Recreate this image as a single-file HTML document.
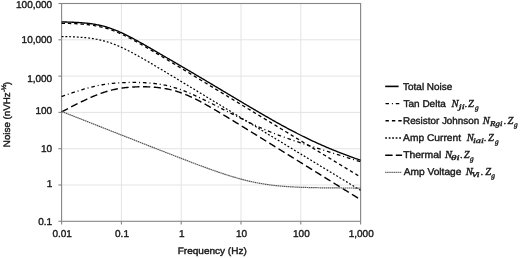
<!DOCTYPE html>
<html><head><meta charset="utf-8"><style>
html,body{margin:0;padding:0;background:#fff;}
svg{display:block;text-rendering:geometricPrecision;filter:grayscale(1) blur(0.4px);}
text{font-family:"Liberation Sans", sans-serif;fill:#1a1a1a;stroke:#1a1a1a;stroke-width:0.4px;}
.m text{font-family:"Liberation Serif", serif;font-style:italic;}
</style></head><body>
<svg width="520" height="258" viewBox="0 0 520 258">
<rect width="520" height="258" fill="#fff"/>
<g stroke="#e4e4e4" stroke-width="1"><line x1="121.40" y1="3.5" x2="121.40" y2="221.29999999999998" /><line x1="181.20" y1="3.5" x2="181.20" y2="221.29999999999998" /><line x1="241.00" y1="3.5" x2="241.00" y2="221.29999999999998" /><line x1="300.80" y1="3.5" x2="300.80" y2="221.29999999999998" /><line x1="360.60" y1="3.5" x2="360.60" y2="221.29999999999998" /><line x1="61.6" y1="39.80" x2="360.6" y2="39.80" /><line x1="61.6" y1="76.10" x2="360.6" y2="76.10" /><line x1="61.6" y1="112.40" x2="360.6" y2="112.40" /><line x1="61.6" y1="148.70" x2="360.6" y2="148.70" /><line x1="61.6" y1="185.00" x2="360.6" y2="185.00" /></g>
<rect x="61.6" y="3.5" width="299.00" height="217.80" fill="none" stroke="#868686" stroke-width="1.1"/>
<g stroke="#868686" stroke-width="1.1"><line x1="58.4" y1="3.50" x2="61.6" y2="3.50" /><line x1="58.4" y1="39.80" x2="61.6" y2="39.80" /><line x1="58.4" y1="76.10" x2="61.6" y2="76.10" /><line x1="58.4" y1="112.40" x2="61.6" y2="112.40" /><line x1="58.4" y1="148.70" x2="61.6" y2="148.70" /><line x1="58.4" y1="185.00" x2="61.6" y2="185.00" /><line x1="58.4" y1="221.30" x2="61.6" y2="221.30" /><line x1="61.60" y1="221.29999999999998" x2="61.60" y2="224.49999999999997" /><line x1="121.40" y1="221.29999999999998" x2="121.40" y2="224.49999999999997" /><line x1="181.20" y1="221.29999999999998" x2="181.20" y2="224.49999999999997" /><line x1="241.00" y1="221.29999999999998" x2="241.00" y2="224.49999999999997" /><line x1="300.80" y1="221.29999999999998" x2="300.80" y2="224.49999999999997" /><line x1="360.60" y1="221.29999999999998" x2="360.60" y2="224.49999999999997" /></g>
<g font-size="10"><text x="52.2" y="8.00" text-anchor="end">100,000</text><text x="52.2" y="43.00" text-anchor="end">10,000</text><text x="52.2" y="82.00" text-anchor="end">1,000</text><text x="52.2" y="114.00" text-anchor="end">100</text><text x="52.2" y="152.00" text-anchor="end">10</text><text x="52.2" y="187.00" text-anchor="end">1</text><text x="52.2" y="225.00" text-anchor="end">0.1</text><text x="62.20" y="237" text-anchor="middle">0.01</text><text x="122.00" y="237" text-anchor="middle">0.1</text><text x="181.80" y="237" text-anchor="middle">1</text><text x="241.60" y="237" text-anchor="middle">10</text><text x="301.40" y="237" text-anchor="middle">100</text><text x="361.20" y="237" text-anchor="middle">1,000</text></g>
<text x="177.70" y="254" font-size="9.4" textLength="69.11" lengthAdjust="spacingAndGlyphs">Frequency (Hz)</text>
<g transform="translate(9.9,146.4) rotate(-90)"><text x="-0.78" y="0" font-size="9.4" textLength="54.85" lengthAdjust="spacingAndGlyphs">Noise (nVHz</text><text x="54.3" y="-4.2" font-size="6.6">-½</text><text x="61.4" y="0" font-size="9.4">)</text></g>
<g><path d="M61.60,21.91 L62.60,21.93 L63.59,21.95 L64.59,21.97 L65.59,21.99 L66.58,22.02 L67.58,22.05 L68.58,22.08 L69.57,22.11 L70.57,22.14 L71.57,22.18 L72.56,22.22 L73.56,22.26 L74.56,22.30 L75.55,22.35 L76.55,22.40 L77.55,22.46 L78.54,22.52 L79.54,22.58 L80.54,22.65 L81.53,22.72 L82.53,22.80 L83.53,22.88 L84.52,22.97 L85.52,23.07 L86.52,23.17 L87.51,23.28 L88.51,23.39 L89.51,23.52 L90.50,23.65 L91.50,23.78 L92.50,23.93 L93.49,24.09 L94.49,24.25 L95.49,24.42 L96.48,24.61 L97.48,24.80 L98.48,25.00 L99.47,25.22 L100.47,25.44 L101.47,25.68 L102.46,25.92 L103.46,26.18 L104.46,26.45 L105.45,26.73 L106.45,27.02 L107.45,27.33 L108.44,27.64 L109.44,27.97 L110.44,28.31 L111.43,28.66 L112.43,29.02 L113.43,29.39 L114.42,29.77 L115.42,30.16 L116.42,30.57 L117.41,30.98 L118.41,31.40 L119.41,31.84 L120.40,32.28 L121.40,32.73 L122.40,33.19 L123.39,33.66 L124.39,34.13 L125.39,34.62 L126.38,35.11 L127.38,35.60 L128.38,36.10 L129.37,36.61 L130.37,37.13 L131.37,37.65 L132.36,38.17 L133.36,38.70 L134.36,39.24 L135.35,39.78 L136.35,40.32 L137.35,40.87 L138.34,41.42 L139.34,41.97 L140.34,42.52 L141.33,43.08 L142.33,43.64 L143.33,44.21 L144.32,44.77 L145.32,45.34 L146.32,45.91 L147.31,46.48 L148.31,47.05 L149.31,47.62 L150.30,48.20 L151.30,48.77 L152.30,49.35 L153.29,49.92 L154.29,50.50 L155.29,51.08 L156.28,51.66 L157.28,52.24 L158.28,52.82 L159.27,53.40 L160.27,53.98 L161.27,54.56 L162.26,55.14 L163.26,55.72 L164.26,56.30 L165.25,56.88 L166.25,57.46 L167.25,58.04 L168.24,58.62 L169.24,59.20 L170.24,59.78 L171.23,60.36 L172.23,60.94 L173.23,61.52 L174.22,62.10 L175.22,62.68 L176.22,63.26 L177.21,63.84 L178.21,64.42 L179.21,65.01 L180.20,65.59 L181.20,66.17 L182.20,66.75 L183.19,67.34 L184.19,67.92 L185.19,68.51 L186.18,69.09 L187.18,69.68 L188.18,70.26 L189.17,70.85 L190.17,71.43 L191.17,72.02 L192.16,72.61 L193.16,73.20 L194.16,73.79 L195.15,74.38 L196.15,74.96 L197.15,75.55 L198.14,76.15 L199.14,76.74 L200.14,77.33 L201.13,77.92 L202.13,78.51 L203.13,79.10 L204.12,79.70 L205.12,80.29 L206.12,80.88 L207.11,81.47 L208.11,82.07 L209.11,82.66 L210.10,83.26 L211.10,83.85 L212.10,84.44 L213.09,85.04 L214.09,85.63 L215.09,86.23 L216.08,86.82 L217.08,87.42 L218.08,88.01 L219.07,88.61 L220.07,89.20 L221.07,89.80 L222.06,90.39 L223.06,90.99 L224.06,91.58 L225.05,92.18 L226.05,92.77 L227.05,93.37 L228.04,93.96 L229.04,94.56 L230.04,95.15 L231.03,95.75 L232.03,96.34 L233.03,96.94 L234.02,97.53 L235.02,98.13 L236.02,98.72 L237.01,99.31 L238.01,99.91 L239.01,100.50 L240.00,101.09 L241.00,101.69 L242.00,102.28 L242.99,102.87 L243.99,103.46 L244.99,104.05 L245.98,104.65 L246.98,105.24 L247.98,105.83 L248.97,106.41 L249.97,107.00 L250.97,107.59 L251.96,108.18 L252.96,108.77 L253.96,109.35 L254.95,109.94 L255.95,110.52 L256.95,111.11 L257.94,111.69 L258.94,112.27 L259.94,112.85 L260.93,113.43 L261.93,114.01 L262.93,114.59 L263.92,115.17 L264.92,115.74 L265.92,116.32 L266.91,116.89 L267.91,117.46 L268.91,118.03 L269.90,118.60 L270.90,119.17 L271.90,119.74 L272.89,120.30 L273.89,120.86 L274.89,121.42 L275.88,121.98 L276.88,122.54 L277.88,123.10 L278.87,123.65 L279.87,124.20 L280.87,124.75 L281.86,125.30 L282.86,125.84 L283.86,126.38 L284.85,126.93 L285.85,127.46 L286.85,128.00 L287.84,128.53 L288.84,129.07 L289.84,129.59 L290.83,130.12 L291.83,130.65 L292.83,131.17 L293.82,131.69 L294.82,132.20 L295.82,132.72 L296.81,133.23 L297.81,133.74 L298.81,134.24 L299.80,134.75 L300.80,135.25 L301.80,135.74 L302.79,136.24 L303.79,136.73 L304.79,137.22 L305.78,137.71 L306.78,138.19 L307.78,138.67 L308.77,139.15 L309.77,139.62 L310.77,140.10 L311.76,140.57 L312.76,141.03 L313.76,141.50 L314.75,141.96 L315.75,142.41 L316.75,142.87 L317.74,143.32 L318.74,143.77 L319.74,144.22 L320.73,144.66 L321.73,145.10 L322.73,145.54 L323.72,145.97 L324.72,146.40 L325.72,146.83 L326.71,147.26 L327.71,147.68 L328.71,148.10 L329.70,148.52 L330.70,148.94 L331.70,149.35 L332.69,149.76 L333.69,150.17 L334.69,150.57 L335.68,150.97 L336.68,151.37 L337.68,151.77 L338.67,152.17 L339.67,152.56 L340.67,152.95 L341.66,153.34 L342.66,153.72 L343.66,154.10 L344.65,154.48 L345.65,154.86 L346.65,155.24 L347.64,155.61 L348.64,155.98 L349.64,156.35 L350.63,156.72 L351.63,157.08 L352.63,157.45 L353.62,157.81 L354.62,158.17 L355.62,158.52 L356.61,158.88 L357.61,159.23 L358.61,159.58 L359.60,159.93 L360.60,160.28" fill="none" stroke="#000" stroke-width="1.35" /><path d="M61.60,23.25 L62.60,23.27 L63.59,23.29 L64.59,23.31 L65.59,23.34 L66.58,23.36 L67.58,23.39 L68.58,23.42 L69.57,23.45 L70.57,23.48 L71.57,23.52 L72.56,23.56 L73.56,23.60 L74.56,23.65 L75.55,23.70 L76.55,23.75 L77.55,23.80 L78.54,23.86 L79.54,23.93 L80.54,23.99 L81.53,24.07 L82.53,24.15 L83.53,24.23 L84.52,24.32 L85.52,24.41 L86.52,24.52 L87.51,24.62 L88.51,24.74 L89.51,24.86 L90.50,24.99 L91.50,25.13 L92.50,25.28 L93.49,25.43 L94.49,25.60 L95.49,25.77 L96.48,25.95 L97.48,26.15 L98.48,26.35 L99.47,26.56 L100.47,26.79 L101.47,27.02 L102.46,27.27 L103.46,27.53 L104.46,27.80 L105.45,28.08 L106.45,28.37 L107.45,28.68 L108.44,28.99 L109.44,29.32 L110.44,29.66 L111.43,30.01 L112.43,30.37 L113.43,30.74 L114.42,31.13 L115.42,31.52 L116.42,31.93 L117.41,32.34 L118.41,32.76 L119.41,33.20 L120.40,33.64 L121.40,34.09 L122.40,34.56 L123.39,35.02 L124.39,35.50 L125.39,35.99 L126.38,36.48 L127.38,36.98 L128.38,37.48 L129.37,37.99 L130.37,38.51 L131.37,39.03 L132.36,39.56 L133.36,40.10 L134.36,40.63 L135.35,41.18 L136.35,41.72 L137.35,42.27 L138.34,42.83 L139.34,43.39 L140.34,43.95 L141.33,44.51 L142.33,45.08 L143.33,45.65 L144.32,46.22 L145.32,46.79 L146.32,47.37 L147.31,47.95 L148.31,48.53 L149.31,49.11 L150.30,49.69 L151.30,50.28 L152.30,50.87 L153.29,51.45 L154.29,52.04 L155.29,52.63 L156.28,53.22 L157.28,53.82 L158.28,54.41 L159.27,55.00 L160.27,55.60 L161.27,56.19 L162.26,56.79 L163.26,57.39 L164.26,57.99 L165.25,58.58 L166.25,59.18 L167.25,59.78 L168.24,60.38 L169.24,60.98 L170.24,61.58 L171.23,62.18 L172.23,62.78 L173.23,63.38 L174.22,63.99 L175.22,64.59 L176.22,65.19 L177.21,65.79 L178.21,66.39 L179.21,67.00 L180.20,67.60 L181.20,68.20 L182.20,68.81 L183.19,69.41 L184.19,70.01 L185.19,70.62 L186.18,71.22 L187.18,71.82 L188.18,72.43 L189.17,73.03 L190.17,73.63 L191.17,74.24 L192.16,74.84 L193.16,75.45 L194.16,76.05 L195.15,76.66 L196.15,77.26 L197.15,77.86 L198.14,78.47 L199.14,79.07 L200.14,79.68 L201.13,80.28 L202.13,80.89 L203.13,81.49 L204.12,82.10 L205.12,82.70 L206.12,83.31 L207.11,83.91 L208.11,84.51 L209.11,85.12 L210.10,85.72 L211.10,86.33 L212.10,86.93 L213.09,87.54 L214.09,88.14 L215.09,88.75 L216.08,89.35 L217.08,89.96 L218.08,90.56 L219.07,91.17 L220.07,91.77 L221.07,92.38 L222.06,92.98 L223.06,93.59 L224.06,94.19 L225.05,94.80 L226.05,95.40 L227.05,96.01 L228.04,96.61 L229.04,97.22 L230.04,97.82 L231.03,98.43 L232.03,99.03 L233.03,99.64 L234.02,100.24 L235.02,100.85 L236.02,101.45 L237.01,102.06 L238.01,102.66 L239.01,103.27 L240.00,103.87 L241.00,104.48 L242.00,105.08 L242.99,105.69 L243.99,106.29 L244.99,106.90 L245.98,107.50 L246.98,108.11 L247.98,108.71 L248.97,109.32 L249.97,109.92 L250.97,110.53 L251.96,111.13 L252.96,111.74 L253.96,112.34 L254.95,112.95 L255.95,113.55 L256.95,114.16 L257.94,114.76 L258.94,115.37 L259.94,115.97 L260.93,116.58 L261.93,117.18 L262.93,117.79 L263.92,118.39 L264.92,119.00 L265.92,119.60 L266.91,120.21 L267.91,120.81 L268.91,121.42 L269.90,122.02 L270.90,122.63 L271.90,123.23 L272.89,123.84 L273.89,124.44 L274.89,125.05 L275.88,125.65 L276.88,126.26 L277.88,126.86 L278.87,127.47 L279.87,128.07 L280.87,128.68 L281.86,129.28 L282.86,129.89 L283.86,130.49 L284.85,131.10 L285.85,131.70 L286.85,132.31 L287.84,132.91 L288.84,133.52 L289.84,134.12 L290.83,134.73 L291.83,135.33 L292.83,135.94 L293.82,136.54 L294.82,137.15 L295.82,137.75 L296.81,138.36 L297.81,138.96 L298.81,139.57 L299.80,140.17 L300.80,140.78 L301.80,141.38 L302.79,141.99 L303.79,142.59 L304.79,143.20 L305.78,143.80 L306.78,144.41 L307.78,145.01 L308.77,145.62 L309.77,146.22 L310.77,146.83 L311.76,147.43 L312.76,148.04 L313.76,148.64 L314.75,149.25 L315.75,149.85 L316.75,150.46 L317.74,151.06 L318.74,151.67 L319.74,152.27 L320.73,152.88 L321.73,153.48 L322.73,154.09 L323.72,154.69 L324.72,155.30 L325.72,155.90 L326.71,156.51 L327.71,157.11 L328.71,157.72 L329.70,158.32 L330.70,158.93 L331.70,159.53 L332.69,160.14 L333.69,160.74 L334.69,161.35 L335.68,161.95 L336.68,162.56 L337.68,163.16 L338.67,163.77 L339.67,164.37 L340.67,164.98 L341.66,165.58 L342.66,166.19 L343.66,166.79 L344.65,167.40 L345.65,168.00 L346.65,168.61 L347.64,169.21 L348.64,169.82 L349.64,170.42 L350.63,171.03 L351.63,171.63 L352.63,172.24 L353.62,172.84 L354.62,173.45 L355.62,174.05 L356.61,174.66 L357.61,175.26 L358.61,175.87 L359.60,176.47 L360.60,177.08" fill="none" stroke="#000" stroke-width="1.3" stroke-dasharray="3.4 2.9" /><path d="M61.60,36.52 L62.60,36.54 L63.59,36.56 L64.59,36.58 L65.59,36.61 L66.58,36.63 L67.58,36.66 L68.58,36.69 L69.57,36.72 L70.57,36.75 L71.57,36.79 L72.56,36.83 L73.56,36.87 L74.56,36.91 L75.55,36.96 L76.55,37.01 L77.55,37.07 L78.54,37.13 L79.54,37.19 L80.54,37.26 L81.53,37.33 L82.53,37.41 L83.53,37.50 L84.52,37.59 L85.52,37.68 L86.52,37.78 L87.51,37.89 L88.51,38.01 L89.51,38.13 L90.50,38.26 L91.50,38.40 L92.50,38.54 L93.49,38.70 L94.49,38.86 L95.49,39.04 L96.48,39.22 L97.48,39.41 L98.48,39.62 L99.47,39.83 L100.47,40.06 L101.47,40.29 L102.46,40.54 L103.46,40.80 L104.46,41.07 L105.45,41.35 L106.45,41.64 L107.45,41.94 L108.44,42.26 L109.44,42.59 L110.44,42.93 L111.43,43.28 L112.43,43.64 L113.43,44.01 L114.42,44.39 L115.42,44.79 L116.42,45.19 L117.41,45.61 L118.41,46.03 L119.41,46.47 L120.40,46.91 L121.40,47.36 L122.40,47.82 L123.39,48.29 L124.39,48.77 L125.39,49.25 L126.38,49.75 L127.38,50.24 L128.38,50.75 L129.37,51.26 L130.37,51.78 L131.37,52.30 L132.36,52.83 L133.36,53.36 L134.36,53.90 L135.35,54.44 L136.35,54.99 L137.35,55.54 L138.34,56.09 L139.34,56.65 L140.34,57.21 L141.33,57.78 L142.33,58.34 L143.33,58.91 L144.32,59.49 L145.32,60.06 L146.32,60.64 L147.31,61.21 L148.31,61.79 L149.31,62.38 L150.30,62.96 L151.30,63.55 L152.30,64.13 L153.29,64.72 L154.29,65.31 L155.29,65.90 L156.28,66.49 L157.28,67.08 L158.28,67.68 L159.27,68.27 L160.27,68.87 L161.27,69.46 L162.26,70.06 L163.26,70.66 L164.26,71.25 L165.25,71.85 L166.25,72.45 L167.25,73.05 L168.24,73.65 L169.24,74.25 L170.24,74.85 L171.23,75.45 L172.23,76.05 L173.23,76.65 L174.22,77.25 L175.22,77.85 L176.22,78.46 L177.21,79.06 L178.21,79.66 L179.21,80.26 L180.20,80.87 L181.20,81.47 L182.20,82.07 L183.19,82.68 L184.19,83.28 L185.19,83.88 L186.18,84.49 L187.18,85.09 L188.18,85.69 L189.17,86.30 L190.17,86.90 L191.17,87.51 L192.16,88.11 L193.16,88.71 L194.16,89.32 L195.15,89.92 L196.15,90.53 L197.15,91.13 L198.14,91.74 L199.14,92.34 L200.14,92.94 L201.13,93.55 L202.13,94.15 L203.13,94.76 L204.12,95.36 L205.12,95.97 L206.12,96.57 L207.11,97.18 L208.11,97.78 L209.11,98.39 L210.10,98.99 L211.10,99.60 L212.10,100.20 L213.09,100.81 L214.09,101.41 L215.09,102.02 L216.08,102.62 L217.08,103.23 L218.08,103.83 L219.07,104.44 L220.07,105.04 L221.07,105.65 L222.06,106.25 L223.06,106.85 L224.06,107.46 L225.05,108.06 L226.05,108.67 L227.05,109.27 L228.04,109.88 L229.04,110.48 L230.04,111.09 L231.03,111.69 L232.03,112.30 L233.03,112.90 L234.02,113.51 L235.02,114.11 L236.02,114.72 L237.01,115.32 L238.01,115.93 L239.01,116.53 L240.00,117.14 L241.00,117.74 L242.00,118.35 L242.99,118.95 L243.99,119.56 L244.99,120.16 L245.98,120.77 L246.98,121.37 L247.98,121.98 L248.97,122.58 L249.97,123.19 L250.97,123.79 L251.96,124.40 L252.96,125.00 L253.96,125.61 L254.95,126.21 L255.95,126.82 L256.95,127.42 L257.94,128.03 L258.94,128.63 L259.94,129.24 L260.93,129.84 L261.93,130.45 L262.93,131.05 L263.92,131.66 L264.92,132.26 L265.92,132.87 L266.91,133.47 L267.91,134.08 L268.91,134.68 L269.90,135.29 L270.90,135.89 L271.90,136.50 L272.89,137.10 L273.89,137.71 L274.89,138.31 L275.88,138.92 L276.88,139.52 L277.88,140.13 L278.87,140.73 L279.87,141.34 L280.87,141.94 L281.86,142.55 L282.86,143.15 L283.86,143.76 L284.85,144.36 L285.85,144.97 L286.85,145.57 L287.84,146.18 L288.84,146.78 L289.84,147.39 L290.83,147.99 L291.83,148.60 L292.83,149.20 L293.82,149.81 L294.82,150.41 L295.82,151.02 L296.81,151.62 L297.81,152.23 L298.81,152.83 L299.80,153.44 L300.80,154.04 L301.80,154.65 L302.79,155.25 L303.79,155.86 L304.79,156.46 L305.78,157.07 L306.78,157.67 L307.78,158.28 L308.77,158.88 L309.77,159.49 L310.77,160.09 L311.76,160.70 L312.76,161.30 L313.76,161.91 L314.75,162.51 L315.75,163.12 L316.75,163.72 L317.74,164.33 L318.74,164.93 L319.74,165.54 L320.73,166.14 L321.73,166.75 L322.73,167.35 L323.72,167.96 L324.72,168.56 L325.72,169.17 L326.71,169.77 L327.71,170.38 L328.71,170.98 L329.70,171.59 L330.70,172.19 L331.70,172.80 L332.69,173.40 L333.69,174.01 L334.69,174.61 L335.68,175.22 L336.68,175.82 L337.68,176.43 L338.67,177.03 L339.67,177.64 L340.67,178.24 L341.66,178.85 L342.66,179.45 L343.66,180.06 L344.65,180.66 L345.65,181.27 L346.65,181.87 L347.64,182.48 L348.64,183.08 L349.64,183.69 L350.63,184.29 L351.63,184.90 L352.63,185.50 L353.62,186.11 L354.62,186.71 L355.62,187.32 L356.61,187.92 L357.61,188.53 L358.61,189.13 L359.60,189.74 L360.60,190.34" fill="none" stroke="#000" stroke-width="1.2" stroke-dasharray="1.9 1.9" /><path d="M61.60,96.55 L62.60,96.19 L63.59,95.84 L64.59,95.48 L65.59,95.13 L66.58,94.78 L67.58,94.43 L68.58,94.09 L69.57,93.74 L70.57,93.40 L71.57,93.06 L72.56,92.72 L73.56,92.39 L74.56,92.06 L75.55,91.73 L76.55,91.41 L77.55,91.08 L78.54,90.77 L79.54,90.45 L80.54,90.14 L81.53,89.83 L82.53,89.53 L83.53,89.24 L84.52,88.94 L85.52,88.66 L86.52,88.38 L87.51,88.10 L88.51,87.83 L89.51,87.57 L90.50,87.31 L91.50,87.06 L92.50,86.81 L93.49,86.57 L94.49,86.34 L95.49,86.11 L96.48,85.90 L97.48,85.69 L98.48,85.48 L99.47,85.29 L100.47,85.10 L101.47,84.92 L102.46,84.74 L103.46,84.58 L104.46,84.42 L105.45,84.26 L106.45,84.12 L107.45,83.98 L108.44,83.85 L109.44,83.73 L110.44,83.61 L111.43,83.50 L112.43,83.40 L113.43,83.30 L114.42,83.21 L115.42,83.12 L116.42,83.04 L117.41,82.97 L118.41,82.90 L119.41,82.84 L120.40,82.78 L121.40,82.73 L122.40,82.68 L123.39,82.63 L124.39,82.60 L125.39,82.56 L126.38,82.53 L127.38,82.51 L128.38,82.48 L129.37,82.47 L130.37,82.45 L131.37,82.45 L132.36,82.44 L133.36,82.44 L134.36,82.44 L135.35,82.45 L136.35,82.46 L137.35,82.48 L138.34,82.50 L139.34,82.52 L140.34,82.55 L141.33,82.58 L142.33,82.62 L143.33,82.66 L144.32,82.71 L145.32,82.76 L146.32,82.82 L147.31,82.88 L148.31,82.95 L149.31,83.03 L150.30,83.11 L151.30,83.20 L152.30,83.29 L153.29,83.39 L154.29,83.50 L155.29,83.61 L156.28,83.74 L157.28,83.87 L158.28,84.01 L159.27,84.16 L160.27,84.31 L161.27,84.48 L162.26,84.65 L163.26,84.84 L164.26,85.03 L165.25,85.23 L166.25,85.45 L167.25,85.67 L168.24,85.90 L169.24,86.15 L170.24,86.40 L171.23,86.66 L172.23,86.94 L173.23,87.22 L174.22,87.51 L175.22,87.82 L176.22,88.13 L177.21,88.45 L178.21,88.78 L179.21,89.12 L180.20,89.47 L181.20,89.83 L182.20,90.20 L183.19,90.57 L184.19,90.96 L185.19,91.35 L186.18,91.74 L187.18,92.15 L188.18,92.56 L189.17,92.98 L190.17,93.40 L191.17,93.83 L192.16,94.27 L193.16,94.71 L194.16,95.16 L195.15,95.61 L196.15,96.06 L197.15,96.52 L198.14,96.98 L199.14,97.45 L200.14,97.92 L201.13,98.40 L202.13,98.87 L203.13,99.35 L204.12,99.84 L205.12,100.32 L206.12,100.81 L207.11,101.30 L208.11,101.79 L209.11,102.29 L210.10,102.78 L211.10,103.28 L212.10,103.78 L213.09,104.28 L214.09,104.78 L215.09,105.28 L216.08,105.79 L217.08,106.29 L218.08,106.79 L219.07,107.30 L220.07,107.81 L221.07,108.32 L222.06,108.82 L223.06,109.33 L224.06,109.84 L225.05,110.35 L226.05,110.86 L227.05,111.36 L228.04,111.87 L229.04,112.38 L230.04,112.89 L231.03,113.40 L232.03,113.90 L233.03,114.41 L234.02,114.92 L235.02,115.42 L236.02,115.93 L237.01,116.43 L238.01,116.93 L239.01,117.43 L240.00,117.93 L241.00,118.43 L242.00,118.93 L242.99,119.42 L243.99,119.92 L244.99,120.41 L245.98,120.90 L246.98,121.39 L247.98,121.87 L248.97,122.36 L249.97,122.84 L250.97,123.31 L251.96,123.79 L252.96,124.26 L253.96,124.73 L254.95,125.20 L255.95,125.66 L256.95,126.12 L257.94,126.58 L258.94,127.03 L259.94,127.48 L260.93,127.92 L261.93,128.37 L262.93,128.80 L263.92,129.24 L264.92,129.67 L265.92,130.09 L266.91,130.51 L267.91,130.93 L268.91,131.35 L269.90,131.75 L270.90,132.16 L271.90,132.56 L272.89,132.96 L273.89,133.35 L274.89,133.74 L275.88,134.13 L276.88,134.51 L277.88,134.89 L278.87,135.27 L279.87,135.64 L280.87,136.01 L281.86,136.37 L282.86,136.73 L283.86,137.09 L284.85,137.45 L285.85,137.81 L286.85,138.16 L287.84,138.51 L288.84,138.85 L289.84,139.20 L290.83,139.54 L291.83,139.88 L292.83,140.22 L293.82,140.56 L294.82,140.90 L295.82,141.23 L296.81,141.56 L297.81,141.89 L298.81,142.22 L299.80,142.55 L300.80,142.88 L301.80,143.21 L302.79,143.53 L303.79,143.86 L304.79,144.18 L305.78,144.50 L306.78,144.83 L307.78,145.15 L308.77,145.47 L309.77,145.79 L310.77,146.11 L311.76,146.43 L312.76,146.75 L313.76,147.06 L314.75,147.38 L315.75,147.70 L316.75,148.02 L317.74,148.33 L318.74,148.65 L319.74,148.97 L320.73,149.28 L321.73,149.60 L322.73,149.91 L323.72,150.23 L324.72,150.54 L325.72,150.86 L326.71,151.17 L327.71,151.49 L328.71,151.80 L329.70,152.12 L330.70,152.43 L331.70,152.74 L332.69,153.06 L333.69,153.37 L334.69,153.68 L335.68,154.00 L336.68,154.31 L337.68,154.62 L338.67,154.94 L339.67,155.25 L340.67,155.56 L341.66,155.88 L342.66,156.19 L343.66,156.50 L344.65,156.81 L345.65,157.13 L346.65,157.44 L347.64,157.75 L348.64,158.07 L349.64,158.38 L350.63,158.69 L351.63,159.00 L352.63,159.32 L353.62,159.63 L354.62,159.94 L355.62,160.25 L356.61,160.57 L357.61,160.88 L358.61,161.19 L359.60,161.50 L360.60,161.82" fill="none" stroke="#000" stroke-width="1.3" stroke-dasharray="3.6 2.9 1 2.9" /><path d="M61.60,111.96 L62.60,111.44 L63.59,110.91 L64.59,110.38 L65.59,109.86 L66.58,109.34 L67.58,108.81 L68.58,108.29 L69.57,107.77 L70.57,107.26 L71.57,106.74 L72.56,106.23 L73.56,105.72 L74.56,105.21 L75.55,104.70 L76.55,104.20 L77.55,103.70 L78.54,103.20 L79.54,102.71 L80.54,102.22 L81.53,101.73 L82.53,101.25 L83.53,100.77 L84.52,100.29 L85.52,99.82 L86.52,99.36 L87.51,98.90 L88.51,98.44 L89.51,97.99 L90.50,97.55 L91.50,97.11 L92.50,96.68 L93.49,96.26 L94.49,95.84 L95.49,95.43 L96.48,95.03 L97.48,94.64 L98.48,94.26 L99.47,93.88 L100.47,93.52 L101.47,93.16 L102.46,92.81 L103.46,92.48 L104.46,92.15 L105.45,91.83 L106.45,91.52 L107.45,91.23 L108.44,90.94 L109.44,90.67 L110.44,90.40 L111.43,90.15 L112.43,89.90 L113.43,89.67 L114.42,89.45 L115.42,89.24 L116.42,89.04 L117.41,88.85 L118.41,88.66 L119.41,88.49 L120.40,88.33 L121.40,88.18 L122.40,88.04 L123.39,87.90 L124.39,87.78 L125.39,87.66 L126.38,87.55 L127.38,87.45 L128.38,87.36 L129.37,87.27 L130.37,87.20 L131.37,87.12 L132.36,87.06 L133.36,87.00 L134.36,86.95 L135.35,86.91 L136.35,86.87 L137.35,86.84 L138.34,86.81 L139.34,86.79 L140.34,86.78 L141.33,86.77 L142.33,86.77 L143.33,86.77 L144.32,86.78 L145.32,86.80 L146.32,86.82 L147.31,86.85 L148.31,86.88 L149.31,86.92 L150.30,86.97 L151.30,87.02 L152.30,87.08 L153.29,87.15 L154.29,87.23 L155.29,87.31 L156.28,87.40 L157.28,87.49 L158.28,87.60 L159.27,87.71 L160.27,87.84 L161.27,87.97 L162.26,88.11 L163.26,88.26 L164.26,88.42 L165.25,88.59 L166.25,88.77 L167.25,88.96 L168.24,89.16 L169.24,89.38 L170.24,89.60 L171.23,89.84 L172.23,90.09 L173.23,90.35 L174.22,90.62 L175.22,90.90 L176.22,91.20 L177.21,91.51 L178.21,91.83 L179.21,92.16 L180.20,92.50 L181.20,92.86 L182.20,93.22 L183.19,93.60 L184.19,93.99 L185.19,94.39 L186.18,94.80 L187.18,95.22 L188.18,95.65 L189.17,96.10 L190.17,96.55 L191.17,97.01 L192.16,97.47 L193.16,97.95 L194.16,98.44 L195.15,98.93 L196.15,99.43 L197.15,99.93 L198.14,100.45 L199.14,100.97 L200.14,101.49 L201.13,102.03 L202.13,102.56 L203.13,103.10 L204.12,103.65 L205.12,104.20 L206.12,104.76 L207.11,105.32 L208.11,105.88 L209.11,106.45 L210.10,107.02 L211.10,107.59 L212.10,108.17 L213.09,108.75 L214.09,109.33 L215.09,109.92 L216.08,110.50 L217.08,111.09 L218.08,111.68 L219.07,112.28 L220.07,112.87 L221.07,113.47 L222.06,114.07 L223.06,114.66 L224.06,115.27 L225.05,115.87 L226.05,116.47 L227.05,117.07 L228.04,117.68 L229.04,118.28 L230.04,118.89 L231.03,119.50 L232.03,120.11 L233.03,120.71 L234.02,121.32 L235.02,121.93 L236.02,122.54 L237.01,123.16 L238.01,123.77 L239.01,124.38 L240.00,124.99 L241.00,125.60 L242.00,126.22 L242.99,126.83 L243.99,127.45 L244.99,128.06 L245.98,128.67 L246.98,129.29 L247.98,129.90 L248.97,130.52 L249.97,131.13 L250.97,131.75 L251.96,132.36 L252.96,132.98 L253.96,133.60 L254.95,134.21 L255.95,134.83 L256.95,135.44 L257.94,136.06 L258.94,136.68 L259.94,137.29 L260.93,137.91 L261.93,138.53 L262.93,139.14 L263.92,139.76 L264.92,140.38 L265.92,140.99 L266.91,141.61 L267.91,142.23 L268.91,142.85 L269.90,143.46 L270.90,144.08 L271.90,144.70 L272.89,145.31 L273.89,145.93 L274.89,146.55 L275.88,147.17 L276.88,147.78 L277.88,148.40 L278.87,149.02 L279.87,149.64 L280.87,150.25 L281.86,150.87 L282.86,151.49 L283.86,152.11 L284.85,152.72 L285.85,153.34 L286.85,153.96 L287.84,154.58 L288.84,155.19 L289.84,155.81 L290.83,156.43 L291.83,157.05 L292.83,157.66 L293.82,158.28 L294.82,158.90 L295.82,159.52 L296.81,160.14 L297.81,160.75 L298.81,161.37 L299.80,161.99 L300.80,162.61 L301.80,163.22 L302.79,163.84 L303.79,164.46 L304.79,165.08 L305.78,165.69 L306.78,166.31 L307.78,166.93 L308.77,167.55 L309.77,168.17 L310.77,168.78 L311.76,169.40 L312.76,170.02 L313.76,170.64 L314.75,171.25 L315.75,171.87 L316.75,172.49 L317.74,173.11 L318.74,173.72 L319.74,174.34 L320.73,174.96 L321.73,175.58 L322.73,176.20 L323.72,176.81 L324.72,177.43 L325.72,178.05 L326.71,178.67 L327.71,179.28 L328.71,179.90 L329.70,180.52 L330.70,181.14 L331.70,181.75 L332.69,182.37 L333.69,182.99 L334.69,183.61 L335.68,184.23 L336.68,184.84 L337.68,185.46 L338.67,186.08 L339.67,186.70 L340.67,187.31 L341.66,187.93 L342.66,188.55 L343.66,189.17 L344.65,189.78 L345.65,190.40 L346.65,191.02 L347.64,191.64 L348.64,192.26 L349.64,192.87 L350.63,193.49 L351.63,194.11 L352.63,194.73 L353.62,195.34 L354.62,195.96 L355.62,196.58 L356.61,197.20 L357.61,197.81 L358.61,198.43 L359.60,199.05 L360.60,199.67" fill="none" stroke="#000" stroke-width="1.4" stroke-dasharray="7.2 3.6" /><path d="M61.60,111.45 L62.60,111.84 L63.59,112.23 L64.59,112.63 L65.59,113.02 L66.58,113.41 L67.58,113.80 L68.58,114.20 L69.57,114.59 L70.57,114.98 L71.57,115.38 L72.56,115.77 L73.56,116.16 L74.56,116.55 L75.55,116.95 L76.55,117.34 L77.55,117.73 L78.54,118.12 L79.54,118.52 L80.54,118.91 L81.53,119.30 L82.53,119.69 L83.53,120.09 L84.52,120.48 L85.52,120.87 L86.52,121.26 L87.51,121.66 L88.51,122.05 L89.51,122.44 L90.50,122.83 L91.50,123.23 L92.50,123.62 L93.49,124.01 L94.49,124.40 L95.49,124.80 L96.48,125.19 L97.48,125.58 L98.48,125.97 L99.47,126.37 L100.47,126.76 L101.47,127.15 L102.46,127.54 L103.46,127.94 L104.46,128.33 L105.45,128.72 L106.45,129.11 L107.45,129.51 L108.44,129.90 L109.44,130.29 L110.44,130.68 L111.43,131.08 L112.43,131.47 L113.43,131.86 L114.42,132.25 L115.42,132.65 L116.42,133.04 L117.41,133.43 L118.41,133.82 L119.41,134.21 L120.40,134.61 L121.40,135.00 L122.40,135.39 L123.39,135.78 L124.39,136.18 L125.39,136.57 L126.38,136.96 L127.38,137.35 L128.38,137.74 L129.37,138.14 L130.37,138.53 L131.37,138.92 L132.36,139.31 L133.36,139.70 L134.36,140.09 L135.35,140.49 L136.35,140.88 L137.35,141.27 L138.34,141.66 L139.34,142.05 L140.34,142.44 L141.33,142.84 L142.33,143.23 L143.33,143.62 L144.32,144.01 L145.32,144.40 L146.32,144.79 L147.31,145.18 L148.31,145.57 L149.31,145.96 L150.30,146.36 L151.30,146.75 L152.30,147.14 L153.29,147.53 L154.29,147.92 L155.29,148.31 L156.28,148.70 L157.28,149.09 L158.28,149.48 L159.27,149.87 L160.27,150.26 L161.27,150.65 L162.26,151.03 L163.26,151.42 L164.26,151.81 L165.25,152.20 L166.25,152.59 L167.25,152.98 L168.24,153.37 L169.24,153.75 L170.24,154.14 L171.23,154.53 L172.23,154.92 L173.23,155.30 L174.22,155.69 L175.22,156.07 L176.22,156.46 L177.21,156.85 L178.21,157.23 L179.21,157.61 L180.20,158.00 L181.20,158.38 L182.20,158.77 L183.19,159.15 L184.19,159.53 L185.19,159.91 L186.18,160.29 L187.18,160.68 L188.18,161.06 L189.17,161.44 L190.17,161.81 L191.17,162.19 L192.16,162.57 L193.16,162.95 L194.16,163.32 L195.15,163.70 L196.15,164.07 L197.15,164.45 L198.14,164.82 L199.14,165.19 L200.14,165.56 L201.13,165.93 L202.13,166.30 L203.13,166.67 L204.12,167.03 L205.12,167.40 L206.12,167.76 L207.11,168.12 L208.11,168.48 L209.11,168.84 L210.10,169.20 L211.10,169.56 L212.10,169.91 L213.09,170.26 L214.09,170.61 L215.09,170.96 L216.08,171.31 L217.08,171.66 L218.08,172.00 L219.07,172.34 L220.07,172.68 L221.07,173.01 L222.06,173.35 L223.06,173.68 L224.06,174.01 L225.05,174.33 L226.05,174.65 L227.05,174.97 L228.04,175.29 L229.04,175.60 L230.04,175.91 L231.03,176.22 L232.03,176.52 L233.03,176.83 L234.02,177.12 L235.02,177.41 L236.02,177.70 L237.01,177.99 L238.01,178.27 L239.01,178.55 L240.00,178.82 L241.00,179.09 L242.00,179.36 L242.99,179.62 L243.99,179.87 L244.99,180.13 L245.98,180.37 L246.98,180.62 L247.98,180.85 L248.97,181.09 L249.97,181.32 L250.97,181.54 L251.96,181.76 L252.96,181.97 L253.96,182.18 L254.95,182.39 L255.95,182.59 L256.95,182.78 L257.94,182.97 L258.94,183.16 L259.94,183.34 L260.93,183.51 L261.93,183.68 L262.93,183.85 L263.92,184.01 L264.92,184.17 L265.92,184.32 L266.91,184.46 L267.91,184.61 L268.91,184.74 L269.90,184.88 L270.90,185.01 L271.90,185.13 L272.89,185.25 L273.89,185.37 L274.89,185.48 L275.88,185.59 L276.88,185.69 L277.88,185.80 L278.87,185.89 L279.87,185.99 L280.87,186.08 L281.86,186.16 L282.86,186.25 L283.86,186.33 L284.85,186.40 L285.85,186.48 L286.85,186.55 L287.84,186.62 L288.84,186.68 L289.84,186.75 L290.83,186.81 L291.83,186.86 L292.83,186.92 L293.82,186.97 L294.82,187.02 L295.82,187.07 L296.81,187.12 L297.81,187.16 L298.81,187.20 L299.80,187.24 L300.80,187.28 L301.80,187.32 L302.79,187.36 L303.79,187.39 L304.79,187.42 L305.78,187.45 L306.78,187.48 L307.78,187.51 L308.77,187.54 L309.77,187.56 L310.77,187.59 L311.76,187.61 L312.76,187.63 L313.76,187.66 L314.75,187.68 L315.75,187.70 L316.75,187.71 L317.74,187.73 L318.74,187.75 L319.74,187.76 L320.73,187.78 L321.73,187.79 L322.73,187.81 L323.72,187.82 L324.72,187.83 L325.72,187.85 L326.71,187.86 L327.71,187.87 L328.71,187.88 L329.70,187.89 L330.70,187.90 L331.70,187.91 L332.69,187.92 L333.69,187.92 L334.69,187.93 L335.68,187.94 L336.68,187.95 L337.68,187.95 L338.67,187.96 L339.67,187.97 L340.67,187.97 L341.66,187.98 L342.66,187.98 L343.66,187.99 L344.65,187.99 L345.65,188.00 L346.65,188.00 L347.64,188.01 L348.64,188.01 L349.64,188.01 L350.63,188.02 L351.63,188.02 L352.63,188.02 L353.62,188.03 L354.62,188.03 L355.62,188.03 L356.61,188.03 L357.61,188.04 L358.61,188.04 L359.60,188.04 L360.60,188.04" fill="none" stroke="#555" stroke-width="1.2" stroke-dasharray="1.6 0.5" /></g>
<g font-size="10"><line x1="385.2" y1="86.4" x2="398.6" y2="86.4" stroke="#000" stroke-width="1.6" /><line x1="385.5" y1="103.6" x2="399.5" y2="103.6" stroke="#000" stroke-width="1.4" stroke-dasharray="3.5 2.9 1 2.9" /><line x1="385.5" y1="120.8" x2="402.4" y2="120.8" stroke="#000" stroke-width="1.4" stroke-dasharray="3.4 3" /><line x1="385.2" y1="138.0" x2="401.8" y2="138.0" stroke="#000" stroke-width="1.3" stroke-dasharray="1.75 1.75" /><line x1="385.2" y1="155.3" x2="402.1" y2="155.3" stroke="#000" stroke-width="1.5" stroke-dasharray="7.4 3.2" /><line x1="385.0" y1="172.3" x2="401.5" y2="172.3" stroke="#707070" stroke-width="1.2" stroke-dasharray="1.6 0.5" /><text x="403.10" y="90" font-size="9.8" textLength="49.17" lengthAdjust="spacingAndGlyphs">Total Noise</text><text x="403.60" y="107" font-size="9.8" textLength="42.10" lengthAdjust="spacingAndGlyphs">Tan Delta</text><text x="403.01" y="124" font-size="9.8" textLength="76.24" lengthAdjust="spacingAndGlyphs">Resistor Johnson</text><text x="403.10" y="141" font-size="9.8" textLength="57.89" lengthAdjust="spacingAndGlyphs">Amp Current</text><text x="403.19" y="158" font-size="9.8" textLength="38.11" lengthAdjust="spacingAndGlyphs">Thermal</text><text x="403.70" y="175" font-size="9.8" textLength="57.67" lengthAdjust="spacingAndGlyphs">Amp Voltage</text><g class="m"><text x="451.55" y="107" font-size="10.6">N</text><text x="458.89" y="109" font-size="7.3" textLength="5.78" lengthAdjust="spacingAndGlyphs">ji</text><text x="464.74" y="107" font-size="10.6">.</text><text x="468.09" y="107" font-size="10.6">Z</text><text x="474.90" y="110" font-size="7.3">g</text></g><g class="m"><text x="482.85" y="124" font-size="10.6">N</text><text x="490.14" y="126" font-size="7.3" textLength="12.31" lengthAdjust="spacingAndGlyphs">Rgi</text><text x="503.64" y="124" font-size="10.6">.</text><text x="507.39" y="124" font-size="10.6">Z</text><text x="514.00" y="127" font-size="7.3">g</text></g><g class="m"><text x="466.65" y="141" font-size="10.6">N</text><text x="472.94" y="143" font-size="7.3" textLength="10.83" lengthAdjust="spacingAndGlyphs">iai</text><text x="484.04" y="141" font-size="10.6">.</text><text x="488.09" y="141" font-size="10.6">Z</text><text x="495.10" y="144" font-size="7.3">g</text></g><g class="m"><text x="445.05" y="158" font-size="10.6">N</text><text x="450.94" y="160" font-size="7.3" textLength="8.58" lengthAdjust="spacingAndGlyphs">θi</text><text x="460.14" y="158" font-size="10.6">.</text><text x="463.69" y="158" font-size="10.6">Z</text><text x="470.00" y="161" font-size="7.3">g</text></g><g class="m"><text x="465.85" y="175" font-size="10.6">N</text><text x="471.40" y="177" font-size="7.3" textLength="8.08" lengthAdjust="spacingAndGlyphs">Vi</text><text x="480.84" y="175" font-size="10.6">.</text><text x="485.29" y="175" font-size="10.6">Z</text><text x="491.20" y="178" font-size="7.3">g</text></g></g>
</svg>
</body></html>
